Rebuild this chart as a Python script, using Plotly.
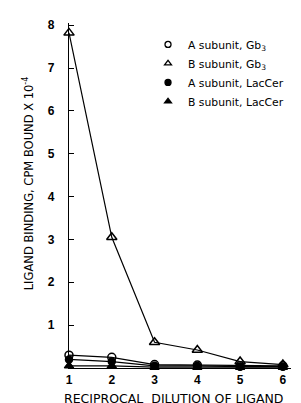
import plotly.graph_objects as go

dilution = [1, 2, 3, 4, 5, 6]
a_gb3 = [0.30, 0.25, 0.08, 0.07, 0.05, 0.05]
b_gb3 = [7.82, 3.05, 0.60, 0.42, 0.15, 0.08]
a_laccer = [0.20, 0.15, 0.05, 0.05, 0.03, 0.03]
b_laccer = [0.05, 0.05, 0.02, 0.02, 0.02, 0.02]

names = ["A subunit, Gb<sub>3</sub>", "B subunit, Gb<sub>3</sub>",
         "A subunit, LacCer", "B subunit, LacCer"]
series = [a_gb3, b_gb3, a_laccer, b_laccer]
symbols = ["circle-open", "triangle-up-open", "circle", "triangle-up"]
sizes = [8, 9, 7, 8]

fig = go.Figure()
for name, ys, sym, sz in zip(names, series, symbols, sizes):
    fig.add_trace(go.Scatter(
        x=dilution, y=ys, name=name, mode="lines+markers", showlegend=False,
        line=dict(color="black", width=1.2),
        marker=dict(symbol=sym, size=sz, color="black", line=dict(color="black", width=1.5)),
        cliponaxis=False,
    ))
# legend entries (markers only, like the printed key)
for name, sym in zip(names, symbols):
    fig.add_trace(go.Scatter(
        x=[None], y=[None], name=name, mode="markers",
        marker=dict(symbol=sym, size=6, color="black", line=dict(color="black", width=1.3)),
    ))

font = dict(family="Liberation Sans, Arial, sans-serif", color="black")
wide = dict(family="DejaVu Sans, sans-serif", color="black")
fig.update_layout(
    width=301, height=403,
    margin=dict(l=61, r=2, t=15, b=43),
    paper_bgcolor="white", plot_bgcolor="white",
    font=dict(size=10, **font),
    legend=dict(x=0.332, y=0.98, xanchor="left", yanchor="top",
                bgcolor="rgba(0,0,0,0)", font=dict(size=10.8, **wide),
                tracegroupgap=0, itemwidth=30),
    showlegend=True,
    annotations=[
        dict(text="LIGAND BINDING, CPM BOUND X 10<sup>-4</sup>", textangle=-90,
             xref="paper", yref="paper", x=-0.172, y=0.5356,
             xanchor="center", yanchor="middle", showarrow=False,
             font=dict(size=11.5, **wide)),
        dict(text="RECIPROCAL  DILUTION OF LIGAND",
             xref="paper", yref="paper", x=0.441, y=-0.088,
             xanchor="center", yanchor="middle", showarrow=False,
             font=dict(size=12.5, **wide)),
    ],
)
fig.update_xaxes(domain=[0, 0.9328], range=[1, 6.19], tickvals=dilution,
                 ticktext=[str(v) for v in dilution],
                 showgrid=False, zeroline=False, showline=True, linecolor="black", linewidth=1.2,
                 ticks="", automargin=False,
                 tickfont=dict(size=12, weight="bold", **font))
fig.update_yaxes(range=[0, 8.05], tickvals=[1, 2, 3, 4, 5, 6, 7, 8],
                 showgrid=False, zeroline=False, showline=True, linecolor="black", linewidth=1.2,
                 ticks="inside", ticklen=5, tickcolor="black", automargin=False, ticklabelstandoff=11,
                 tickfont=dict(size=12, weight="bold", **font))

fig.write_html("out.html")
